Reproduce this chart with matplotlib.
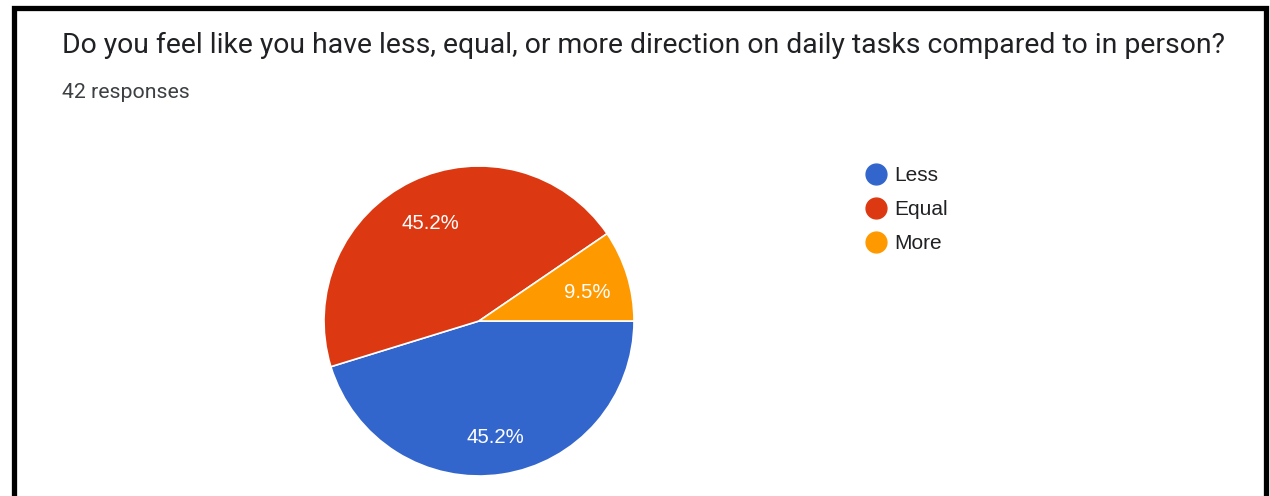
import matplotlib.pyplot as plt
from matplotlib.patches import Rectangle
from matplotlib.lines import Line2D

plt.rcParams['font.family'] = ['Roboto', 'DejaVu Sans']

question = "Do you feel like you have less, equal, or more direction on daily tasks compared to in person?"
n_responses = 42
answers = ["Less", "Equal", "More"]
counts = [19, 19, 4]
colors = ["#3366cc", "#dc3912", "#ff9900"]

W, H = 1270, 496
fig = plt.figure(figsize=(W / 100, H / 100), dpi=100)
fig.patch.set_facecolor("white")

# black frame around the card (bottom edge runs off the image)
fig.patches.append(Rectangle((13.5 / W, -20 / H), (1265.5 - 13.5) / W, (H - 7.5 + 20) / H,
                             transform=fig.transFigure, fill=False,
                             edgecolor="black", linewidth=3.8, clip_on=False))

fig.text(61.5 / W, 1 - 45 / H, question, fontsize=20.4, color="#202124", va="center", ha="left")
fig.text(61.5 / W, 1 - 92 / H, f"{n_responses} responses", fontsize=15.3, color="#3c4043",
         va="center", ha="left")

# pie: center (479, 321) px from top, radius 155 px
cx, cy, r = 479, H - 321, 155
ax = fig.add_axes([(cx - r) / W, (cy - r) / H, 2 * r / W, 2 * r / H])
wedges, texts, autotexts = ax.pie(counts, colors=colors, startangle=0, counterclock=False,
                                  autopct="%1.1f%%", pctdistance=0.73,
                                  wedgeprops=dict(edgecolor="white", linewidth=1.2),
                                  textprops=dict(color="white", fontsize=14.7,
                                                 family=["Liberation Sans", "DejaVu Sans"]))
# labels sit a little below the radial point
for t in autotexts:
    x, y = t.get_position()
    t.set_position((x, y - 0.03))
ax.set_xlim(-1, 1)
ax.set_ylim(-1, 1)

handles = [Line2D([], [], marker="o", linestyle="", markersize=15, markerfacecolor=c,
                  markeredgecolor=c) for c in colors]
fig.legend(handles, answers, loc="upper left", bbox_to_anchor=(853 / W, 1 - 156 / H),
           frameon=False, handletextpad=0.3, labelspacing=0.72,
           handlelength=1.2, borderpad=0, labelcolor="#202124",
           prop=dict(family=["Liberation Sans", "DejaVu Sans"], size=15))

fig.savefig("out.png", dpi=100)
